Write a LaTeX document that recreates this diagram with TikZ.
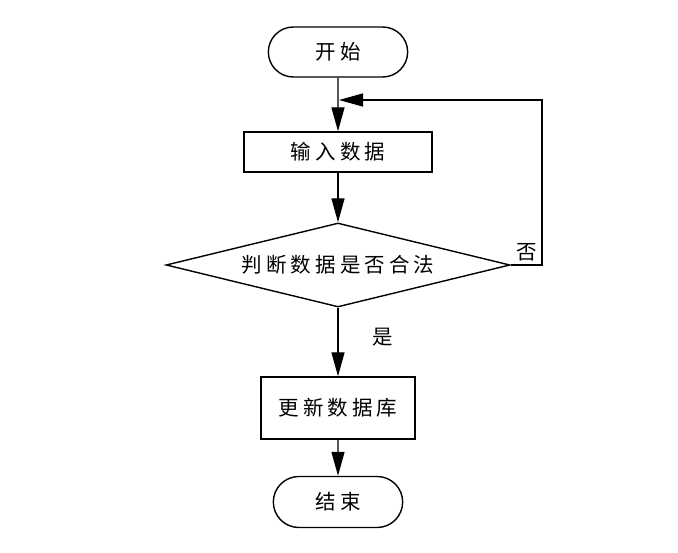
\documentclass[tikz,border=0pt]{standalone}
\usepackage{fontspec}
\newfontfamily\cjk[LetterSpace=20]{Noto Sans CJK SC}
\usepackage{tikz}
\usetikzlibrary{shapes,arrows.meta,positioning}

\begin{document}
\begin{tikzpicture}[x=1pt,y=-1pt,
    every node/.style={font=\cjk\fontsize{20.5}{23}\selectfont},
    term/.style={draw, rounded rectangle, line width=1.4pt},
    proc/.style={draw, rectangle, line width=1.4pt},
    decide/.style={draw, diamond, aspect=4.1, line width=1.4pt, inner sep=0pt},
    flow/.style={line width=1.4pt, -{Triangle[length=24pt,width=13pt]}}]
    \useasboundingbox (0,0) rectangle (678,553);

    % Nodes
    \node[term, minimum width=146pt, minimum height=50pt] (start) at (338,52) {开始};
    \node[proc, minimum width=188pt, minimum height=40pt] (input) at (338,152) {输入数据};
    \node[decide, minimum width=344pt, minimum height=84pt] (check) at (338,265) {判断数据是否合法};
    \node[proc, minimum width=154pt, minimum height=62pt] (update) at (338,408) {更新数据库};
    \node[term, minimum width=136pt, minimum height=51pt] (stop) at (338,502) {结束};

    % Connectors
    \coordinate (join) at (339,100);
    \draw[flow] (start) -- (input);
    \draw[flow] (input) -- (check);
    \draw[flow] (check) -- (update);
    \draw[flow] (update) -- (stop);
    \draw[flow] (check.east) -- (542,265) -- (542,100) -- (join);
    \node at (383,337) {是};
    \node at (527,252) {否};
\end{tikzpicture}
\end{document}
